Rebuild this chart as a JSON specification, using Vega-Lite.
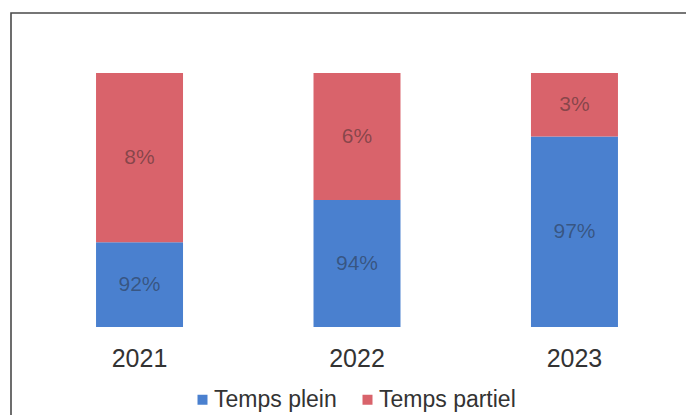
{
  "$schema": "https://vega.github.io/schema/vega-lite/v6.json",
  "width": 692,
  "height": 410,
  "autosize": "none",
  "padding": {"left": 11, "top": 13, "right": 0, "bottom": 0},
  "background": "white",
  "config": {
    "view": {"stroke": "#4a4a4a", "strokeWidth": 1.6},
    "font": "Liberation Sans"
  },
  "data": {
    "values": [
      {"year": "2021", "type": "Temps plein", "pct": 0.92},
      {"year": "2021", "type": "Temps partiel", "pct": 0.08},
      {"year": "2022", "type": "Temps plein", "pct": 0.94},
      {"year": "2022", "type": "Temps partiel", "pct": 0.06},
      {"year": "2023", "type": "Temps plein", "pct": 0.97},
      {"year": "2023", "type": "Temps partiel", "pct": 0.03}
    ]
  },
  "transform": [
    {"stack": "pct", "groupby": ["year"], "sort": [{"field": "type", "order": "descending"}], "as": ["y0", "y1"]},
    {"calculate": "(max(datum.y0, 0.88) + datum.y1) / 2", "as": "mid"}
  ],
  "encoding": {
    "x": {
      "field": "year",
      "type": "nominal",
      "scale": {"paddingInner": 0.6, "paddingOuter": 0.391},
      "axis": {
        "title": null,
        "orient": "bottom",
        "offset": -65,
        "domain": false,
        "ticks": false,
        "labelAngle": 0,
        "labelPadding": 0,
        "labelBaseline": "middle",
        "labelFontSize": 25,
        "labelColor": "#333333",
        "labelFont": "Liberation Sans"
      }
    }
  },
  "layer": [
    {
      "mark": {"type": "bar"},
      "encoding": {
        "y": {
          "field": "y1",
          "type": "quantitative",
          "scale": {"domain": [0.88, 1], "range": [314, 60], "clamp": true, "zero": false, "nice": false},
          "axis": null
        },
        "y2": {"field": "y0"},
        "color": {
          "field": "type",
          "type": "nominal",
          "scale": {"domain": ["Temps plein", "Temps partiel"], "range": ["#4a80cf", "#d9636b"]},
          "legend": {
            "title": null,
            "orient": "none",
            "direction": "horizontal",
            "legendX": 180,
            "legendY": 375,
            "padding": 0,
            "symbolType": "square",
            "symbolSize": 100,
            "symbolStrokeWidth": 0,
            "labelFontSize": 23,
            "labelFont": "Liberation Sans",
            "labelColor": "#333333",
            "labelOffset": 0,
            "columnPadding": 19
          }
        }
      }
    },
    {
      "mark": {"type": "text", "fontSize": 21, "font": "Liberation Sans", "fill": "#222222", "fillOpacity": 0.45, "baseline": "middle"},
      "encoding": {
        "y": {"field": "mid", "type": "quantitative"},
        "text": {"field": "pct", "type": "quantitative", "format": ".0%"}
      }
    }
  ]
}
